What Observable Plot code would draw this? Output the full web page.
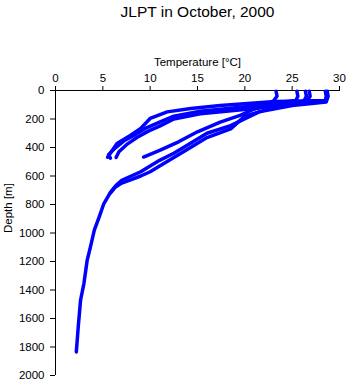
<!DOCTYPE html>
<html><head><meta charset="utf-8">
<script src="https://cdn.jsdelivr.net/npm/d3@7"></script>
<script src="https://cdn.jsdelivr.net/npm/@observablehq/plot@0.6"></script>
<style>body{margin:0;background:#fff}</style>
</head><body><div id="chart"></div>
<script>
const title = "JLPT in October, 2000";
const xLabel = "Temperature [°C]";
const yLabel = "Depth [m]";
const xTicks = [0, 5, 10, 15, 20, 25, 30];
const yTicks = [0, 200, 400, 600, 800, 1000, 1200, 1400, 1600, 1800, 2000];

// Upper-branch (shallow) casts
const castU1_T = [28.5, 28.6, 28.5, 23.2, 17.4, 14.3, 11.8, 10.0, 9.0, 7.9, 6.5, 5.5];
const castU1_D = [5, 40, 70, 77, 105, 126, 150, 196, 266, 315, 372, 468];
const castU2_T = [25.5, 25.6, 25.4, 20.6, 15.3, 12.5, 11.0, 9.6, 8.4, 7.2, 6.2, 5.6, 5.8];
const castU2_D = [5, 40, 70, 110, 145, 180, 222, 262, 310, 355, 410, 450, 475];
const castU3_T = [26.4, 26.5, 26.2, 21.6, 15.3, 12.5, 11.0, 9.8, 8.6, 7.5, 6.7, 6.4];
const castU3_D = [5, 40, 80, 122, 163, 200, 250, 285, 330, 380, 430, 470];
// Lower-branch casts
const castL1_T = [23.3, 23.4, 23.0, 21.0, 19.5, 17.4, 15.0, 13.0, 11.0, 9.3];
const castL1_D = [5, 40, 75, 130, 175, 222, 290, 360, 420, 467];
const castL2_T = [28.7, 28.8, 28.6, 25.0, 21.5, 18.5, 16.0, 14.0, 12.5, 11.0, 10.0, 9.0, 8.0, 7.0, 6.4, 5.8, 5.1, 4.6, 4.1, 3.7, 3.35, 3.0, 2.65, 2.4, 2.2];
const castL2_D = [5, 40, 80, 105, 150, 246, 300, 380, 440, 490, 530, 570, 600, 630, 665, 715, 795, 890, 980, 1095, 1190, 1355, 1470, 1660, 1835];
const castL3_T = [26.8, 26.9, 26.5, 23.0, 20.0, 18.5, 16.0, 14.0, 12.5, 11.0, 10.0, 9.0, 8.0, 7.0, 6.3, 5.8];
const castL3_D = [5, 40, 85, 120, 180, 269, 330, 410, 470, 530, 570, 600, 625, 650, 680, 720];

const casts = [
  {name: "U1", T: castU1_T, D: castU1_D},
  {name: "U2", T: castU2_T, D: castU2_D},
  {name: "U3", T: castU3_T, D: castU3_D},
  {name: "L1", T: castL1_T, D: castL1_D},
  {name: "L2", T: castL2_T, D: castL2_D},
  {name: "L3", T: castL3_T, D: castL3_D}
];
const rows = casts.flatMap(c => c.T.map((t, i) => ({cast: c.name, T: t, D: c.D[i]})));

const plot = Plot.plot({
  width: 348, height: 384,
  marginTop: 90, marginLeft: 55, marginRight: 9, marginBottom: 9,
  style: {fontFamily: "'Liberation Sans', Arial, sans-serif", fontSize: "11.5px", background: "#fff", color: "#000"},
  x: {domain: [0, 30]},
  y: {domain: [0, 2000], reverse: true},
  marks: [
    Plot.axisX({anchor: "top", ticks: xTicks, tickSize: 5, tickPadding: 4, label: null, fontSize: 11.5}),
    Plot.axisY({anchor: "left", ticks: yTicks, tickSize: 5, tickPadding: 6, label: null, fontSize: 11.5, tickFormat: d => String(d)}),
    Plot.ruleY([0], {stroke: "black"}),
    Plot.ruleX([0], {stroke: "black"}),
    Plot.line(rows, {x: "T", y: "D", z: "cast", stroke: "#0000ff", strokeWidth: 3.5}),
    Plot.text([title], {frameAnchor: "top", dy: -85, fontSize: 15.5}),
    Plot.text([xLabel], {frameAnchor: "top", dy: -33, fontSize: 11.5}),
    Plot.text([yLabel], {frameAnchor: "left", dx: -47, rotate: -90, fontSize: 11.5})
  ]
});
document.getElementById("chart").appendChild(plot);
</script>
</body></html>
